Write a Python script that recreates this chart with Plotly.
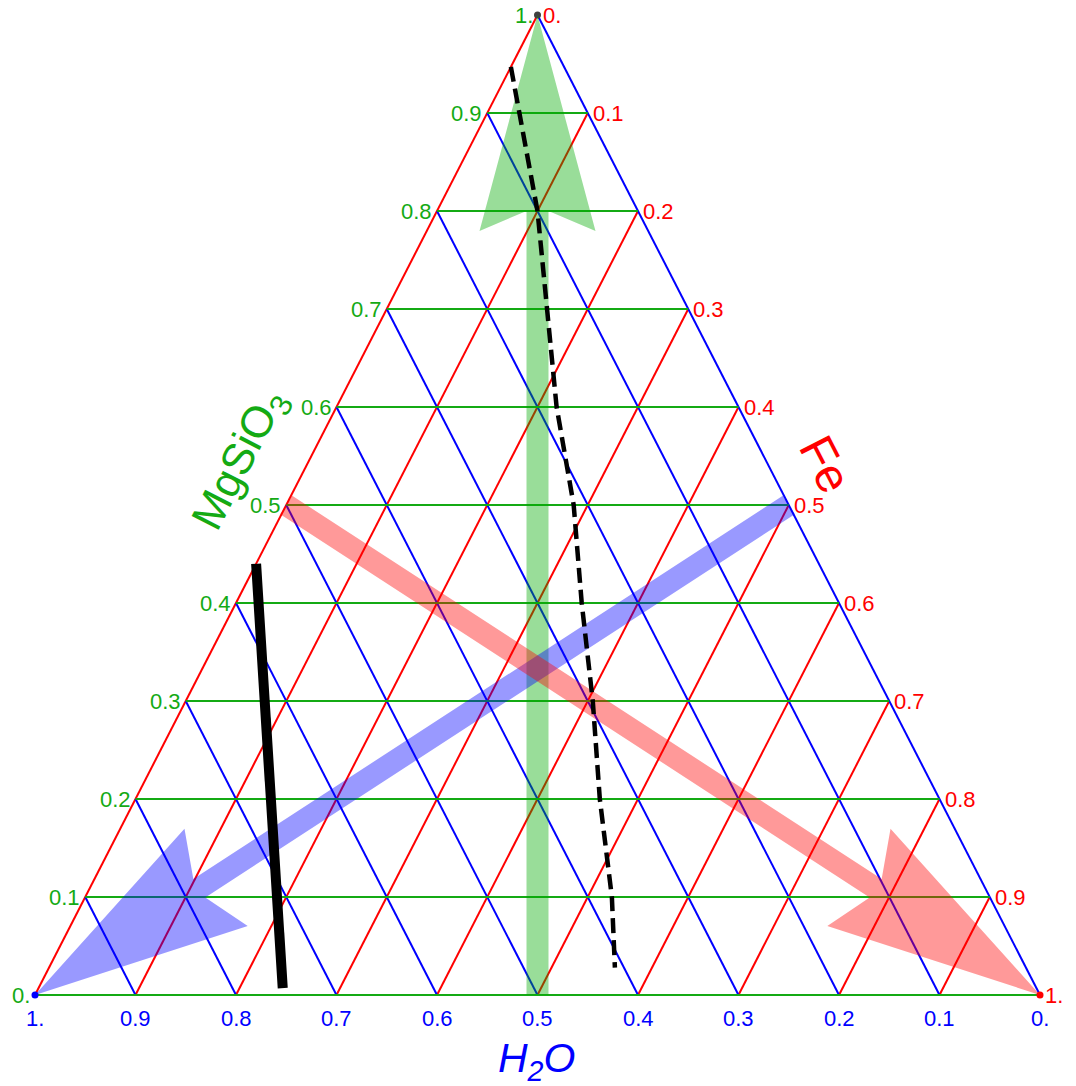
import numpy as np
import plotly.graph_objects as go

# ---------------- data ----------------
tick_values = [0.0, 0.1, 0.2, 0.3, 0.4, 0.5, 0.6, 0.7, 0.8, 0.9, 1.0]
tick_labels = ["0.", "0.1", "0.2", "0.3", "0.4", "0.5", "0.6", "0.7", "0.8", "0.9", "1."]
grid_values = [0.0, 0.1, 0.2, 0.3, 0.4, 0.5, 0.6, 0.7, 0.8, 0.9]

# ternary components: a = MgSiO3 (top), b = H2O (bottom-left), c = Fe (bottom-right)
green_arrow = {"tail": (0.0, 0.5, 0.5), "tip": (1.0, 0.0, 0.0)}
blue_arrow = {"tail": (0.5, 0.0, 0.5), "tip": (0.0, 1.0, 0.0)}
red_arrow = {"tail": (0.5, 0.5, 0.0), "tip": (0.0, 0.0, 1.0)}

solid_line_a = [0.44, 0.007]
solid_line_b = [0.56, 0.75]

dashed_line_a = [0.947, 0.8, 0.6, 0.5, 0.4, 0.3, 0.2, 0.1, 0.028]
dashed_line_b = [0.053, 0.1, 0.181, 0.214, 0.256, 0.295, 0.338, 0.376, 0.409]

vertex_a = [1.0, 0.0, 0.0]
vertex_b = [0.0, 1.0, 0.0]
vertex_colors = ["#404040", "#0000FF", "#FF0000"]

# ---------------- styling / layout constants ----------------
W, H = 1076, 1086
X0_PX, X1_PX = 35.0, 1040.0     # pixel x of x=0 and x=1
Y0_PX, Y1_PX = 995.0, 15.0      # pixel y of y=0 and y=1
SX = X1_PX - X0_PX
SY = Y0_PX - Y1_PX
x_range = [-X0_PX / SX, (W - X0_PX) / SX]
y_range = [(Y0_PX - H) / SY, Y0_PX / SY]

GREEN = "rgb(20,170,20)"
RED = "rgb(255,0,0)"
BLUE = "rgb(0,0,255)"
FONT = "Liberation Sans, Arial, sans-serif"


def to_xy(a, b, c=None):
    a = np.asarray(a, dtype=float)
    b = np.asarray(b, dtype=float)
    if c is None:
        c = 1.0 - a - b
    c = np.asarray(c, dtype=float)
    return c + 0.5 * a, a


def grid_trace(kind, color):
    xs, ys = [], []
    for v in grid_values:
        if kind == "a":      # horizontal
            p = (v, 1 - v, 0.0)
            q = (v, 0.0, 1 - v)
        elif kind == "b":    # parallel to right edge
            p = (0.0, v, 1 - v)
            q = (1 - v, v, 0.0)
        else:                # c: parallel to left edge
            p = (0.0, 1 - v, v)
            q = (1 - v, 0.0, v)
        x1, y1 = to_xy(*p)
        x2, y2 = to_xy(*q)
        xs += [float(x1), float(x2), None]
        ys += [float(y1), float(y2), None]
    return go.Scatter(x=xs, y=ys, mode="lines", line=dict(color=color, width=2),
                      hoverinfo="skip", showlegend=False)


def arrow_polygon(tail, tip, shaft_half=11, head_len=216, head_half=58, notch=20):
    x0, y0 = to_xy(*tail)
    x1, y1 = to_xy(*tip)
    p0 = np.array([float(x0) * SX, float(y0) * SY])
    p1 = np.array([float(x1) * SX, float(y1) * SY])
    d = p1 - p0
    L = np.hypot(*d)
    u = d / L
    n = np.array([-u[1], u[0]])
    sj = L - head_len + notch
    sc = L - head_len
    pts = [p0 + n * shaft_half,
           p0 + u * sj + n * shaft_half,
           p0 + u * sc + n * head_half,
           p1,
           p0 + u * sc - n * head_half,
           p0 + u * sj - n * shaft_half,
           p0 - n * shaft_half,
           p0 + n * shaft_half]
    xs = [p[0] / SX for p in pts]
    ys = [p[1] / SY for p in pts]
    return xs, ys


fig = go.Figure()

fig.add_trace(grid_trace("c", RED))
fig.add_trace(grid_trace("b", BLUE))
fig.add_trace(grid_trace("a", GREEN))

vx, vy = to_xy(vertex_a, vertex_b)
fig.add_trace(go.Scatter(x=vx, y=vy, mode="markers",
                         marker=dict(size=7, color=vertex_colors),
                         hoverinfo="skip", showlegend=False))

for arr, col in [(green_arrow, "rgba(0,170,0,0.4)"),
                 (blue_arrow, "rgba(0,0,255,0.4)"),
                 (red_arrow, "rgba(255,0,0,0.4)")]:
    ax, ay = arrow_polygon(arr["tail"], arr["tip"])
    fig.add_trace(go.Scatter(x=ax, y=ay, mode="lines", fill="toself",
                             fillcolor=col, line=dict(width=0, color=col),
                             hoverinfo="skip", showlegend=False))

sx, sy = to_xy(solid_line_a, solid_line_b)
fig.add_trace(go.Scatter(x=sx, y=sy, mode="lines",
                         line=dict(color="black", width=10),
                         hoverinfo="skip", showlegend=False))

dx, dy = to_xy(dashed_line_a, dashed_line_b)
fig.add_trace(go.Scatter(x=dx, y=dy, mode="lines",
                         line=dict(color="black", width=4.5, dash="15px,7px"),
                         hoverinfo="skip", showlegend=False))

annotations = []
tick_font = 22
for v, lab in zip(tick_values, tick_labels):
    # MgSiO3 (a) labels along the left edge
    x, y = to_xy(v, 1 - v, 0.0)
    annotations.append(dict(x=float(x), y=float(y), text=lab, showarrow=False,
                            xanchor="right", yanchor="middle", xshift=-3,
                            font=dict(family=FONT, size=tick_font, color=GREEN)))
    # Fe (c) labels along the right edge
    x, y = to_xy(1 - v, 0.0, v)
    annotations.append(dict(x=float(x), y=float(y), text=lab, showarrow=False,
                            xanchor="left", yanchor="middle", xshift=3,
                            font=dict(family=FONT, size=tick_font, color=RED)))
    # H2O (b) labels along the bottom edge
    x, y = to_xy(0.0, v, 1 - v)
    annotations.append(dict(x=float(x), y=float(y), text=lab, showarrow=False,
                            xanchor="center", yanchor="middle", yshift=-23,
                            font=dict(family=FONT, size=tick_font, color=BLUE)))

annotations.append(dict(xref="paper", yref="paper", x=241 / W, y=1 - 460 / H,
                        text="MgSiO<sub>3</sub>", showarrow=False, textangle=-62.85,
                        xanchor="center", yanchor="middle",
                        font=dict(family=FONT, size=44, color=GREEN)))
annotations.append(dict(xref="paper", yref="paper", x=826 / W, y=1 - 464 / H,
                        text="Fe", showarrow=False, textangle=62.85,
                        xanchor="center", yanchor="middle",
                        font=dict(family=FONT, size=48, color=RED)))
annotations.append(dict(xref="paper", yref="paper", x=536 / W, y=1 - 1061 / H,
                        text="<i>H<sub>2</sub>O</i>", showarrow=False,
                        xanchor="center", yanchor="middle",
                        font=dict(family=FONT, size=41, color=BLUE)))

fig.update_layout(
    width=W, height=H,
    margin=dict(l=0, r=0, t=0, b=0),
    paper_bgcolor="white", plot_bgcolor="white",
    xaxis=dict(range=x_range, visible=False, fixedrange=True),
    yaxis=dict(range=y_range, visible=False, fixedrange=True),
    annotations=annotations,
    showlegend=False,
)

fig.write_html("out.html",
               config={"displayModeBar": False, "staticPlot": True},
               post_script="document.body.style.margin='0px';"
                           "document.body.style.overflow='hidden';")
